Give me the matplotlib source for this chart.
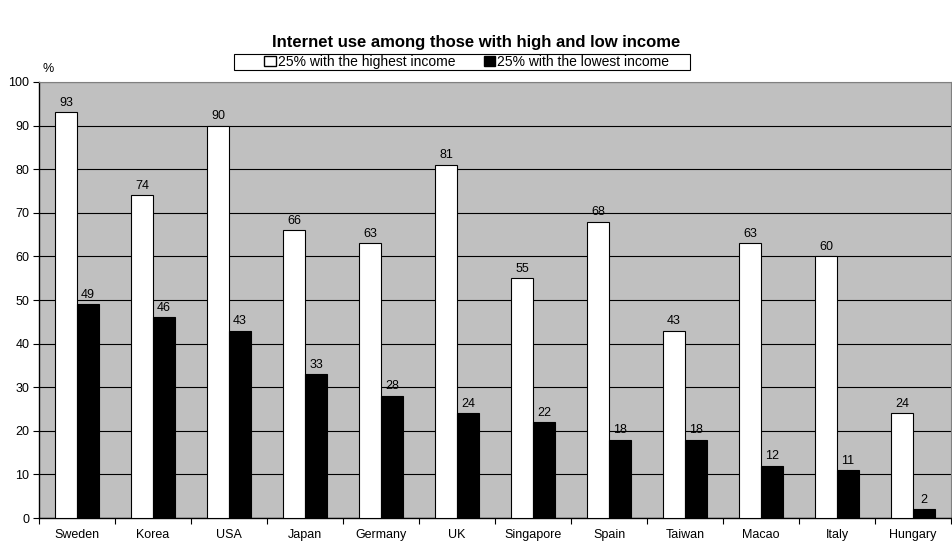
import numpy as np
import matplotlib
import matplotlib.pyplot as plt
import matplotlib.patches as mpatches

matplotlib.rc('font', family=['Liberation Sans', 'DejaVu Sans'])

countries = ['Sweden', 'Korea', 'USA', 'Japan', 'Germany', 'UK', 'Singapore',
             'Spain', 'Taiwan', 'Macao', 'Italy', 'Hungary']
high_income = [93, 74, 90, 66, 63, 81, 55, 68, 43, 63, 60, 24]
low_income = [49, 46, 43, 33, 28, 24, 22, 18, 18, 12, 11, 2]
y_ticks = np.arange(0, 101, 10)

fs = 9
fig = plt.figure(figsize=(9.53, 5.5), dpi=100)
ax = fig.add_axes([0.041, 0.058, 0.957, 0.793])

x = np.arange(len(countries))
w = 0.29
ax.set_facecolor('#c0c0c0')
b1 = ax.bar(x - w / 2, high_income, w, color='white', edgecolor='black', linewidth=0.8, zorder=3)
b2 = ax.bar(x + w / 2, low_income, w, color='black', edgecolor='black', linewidth=0.8, zorder=3)

for bars, vals in ((b1, high_income), (b2, low_income)):
    for b, v in zip(bars, vals):
        ax.text(b.get_x() + b.get_width() / 2, v + 0.8, str(v), ha='center', va='bottom', fontsize=fs)

ax.set_xlim(-0.5, len(countries) - 0.5)
ax.set_ylim(0, 100)
ax.set_yticks(y_ticks)
ax.tick_params(axis='y', labelsize=fs, length=4, direction='out', pad=3)
ax.set_xticks(np.arange(len(countries) + 1) - 0.5)
ax.set_xticklabels([])
ax.set_xticks(x, minor=True)
ax.set_xticklabels(countries, minor=True, fontsize=fs)
ax.tick_params(axis='x', which='major', length=4, direction='out')
ax.tick_params(axis='x', which='minor', length=0, pad=8)
ax.yaxis.grid(True, color='black', linewidth=0.8, zorder=0)
ax.set_axisbelow(True)
for side in ['left', 'bottom']:
    ax.spines[side].set_color('black')
    ax.spines[side].set_linewidth(1)
for side in ['top', 'right']:
    ax.spines[side].set_color('#808080')
    ax.spines[side].set_linewidth(0.8)

fig.text(0.05, 0.875, '%', fontsize=fs, ha='center', va='center')
fig.suptitle('Internet use among those with high and low income', y=0.937,
             x=0.5, fontsize=12, fontweight='bold')

# legend box drawn separately so the entries can sit inset like the original
box = mpatches.Rectangle((0.2455, 0.873), 0.4785, 0.029, transform=fig.transFigure,
                         facecolor='white', edgecolor='black', linewidth=0.8)
fig.patches.append(box)
handles = [mpatches.Patch(facecolor='white', edgecolor='black', label='25% with the highest income'),
           mpatches.Patch(facecolor='black', edgecolor='black', label='25% with the lowest income')]
leg = fig.legend(handles=handles, loc='center', bbox_to_anchor=(0.49, 0.8875), ncol=2,
                 fontsize=10, frameon=False,
                 handlelength=0.8, handleheight=0.8, handletextpad=0.2,
                 columnspacing=2.0, borderpad=0.1, borderaxespad=0)

plt.savefig('out.png', dpi=100)
